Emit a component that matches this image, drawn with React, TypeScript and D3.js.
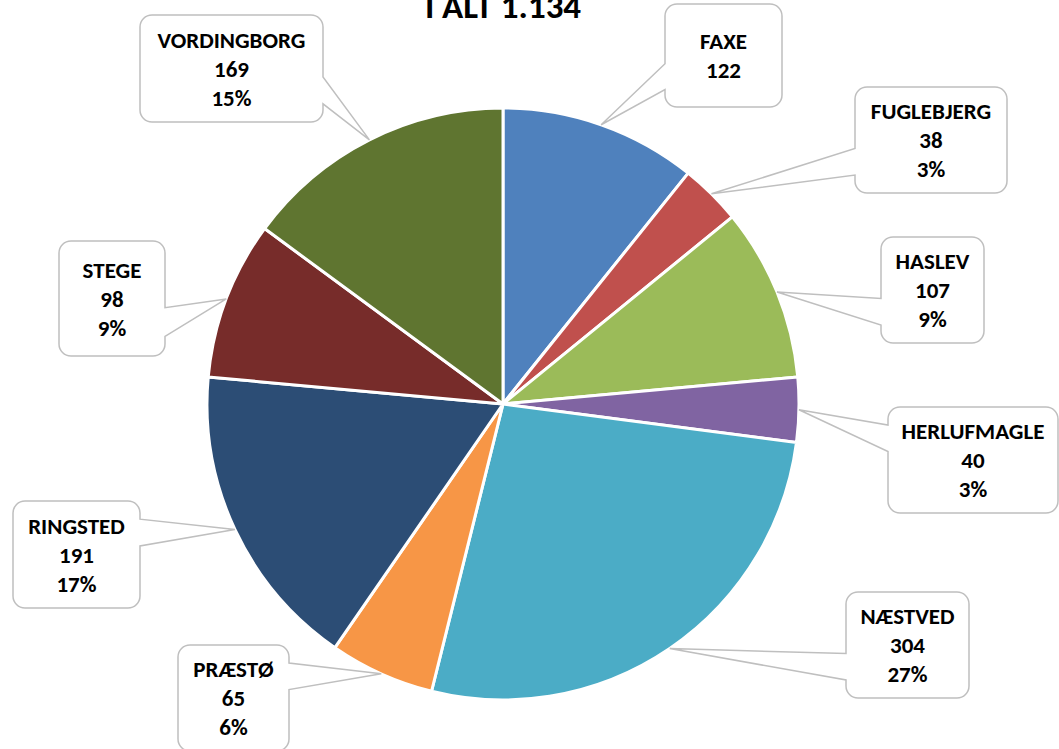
import { useEffect, useRef } from 'react';
import * as d3 from 'd3';

const CATEGORIES = ['FAXE', 'FUGLEBJERG', 'HASLEV', 'HERLUFMAGLE', 'NÆSTVED', 'PRÆSTØ', 'RINGSTED', 'STEGE', 'VORDINGBORG'];
const VALUES = [122, 38, 107, 40, 304, 65, 191, 98, 169];
// percentages as printed on the labels (FAXE has none)
const PERCENT_LABELS = ['', '3%', '9%', '3%', '27%', '6%', '17%', '9%', '15%'];
const TITLE = 'I ALT 1.134';

const COLORS = ['#4f81bd', '#c0504d', '#9bbb59', '#8064a2', '#4bacc6', '#f79646', '#2c4d75', '#772c2a', '#5f7530'];

// callout boxes placed by hand, like the original
const BOXES = [
  { x: 665, y: 4, w: 117, h: 103 },
  { x: 855, y: 87, w: 152, h: 106 },
  { x: 881, y: 237, w: 103, h: 106 },
  { x: 888, y: 407, w: 170, h: 106 },
  { x: 846, y: 592, w: 123, h: 106 },
  { x: 178, y: 645, w: 111, h: 106 },
  { x: 13, y: 501, w: 127, h: 107 },
  { x: 59, y: 241, w: 106, h: 115 },
  { x: 140, y: 15, w: 183, h: 107 }
];

const WIDTH = 1059;
const HEIGHT = 749;
const CX = 503;
const CY = 404;
const RADIUS = 296;
const FONT = 'Carlito, Calibri, Lato, sans-serif';

type Box = { x: number; y: number; w: number; h: number };

function calloutPath(b: Box, tip: [number, number]) {
  const rr = 12;
  const { x, y, w, h } = b;
  const [tx, ty] = tip;
  const upper = ty < y + h / 2;
  const y1 = y + h * (upper ? 0.17 : 0.58);
  const y2 = y + h * (upper ? 0.42 : 0.83);
  const p = d3.path();
  p.moveTo(x + rr, y);
  p.lineTo(x + w - rr, y);
  p.arcTo(x + w, y, x + w, y + rr, rr);
  if (tx > x + w) {
    p.lineTo(x + w, y1);
    p.lineTo(tx, ty);
    p.lineTo(x + w, y2);
  }
  p.lineTo(x + w, y + h - rr);
  p.arcTo(x + w, y + h, x + w - rr, y + h, rr);
  p.lineTo(x + rr, y + h);
  p.arcTo(x, y + h, x, y + h - rr, rr);
  if (tx < x) {
    p.lineTo(x, y2);
    p.lineTo(tx, ty);
    p.lineTo(x, y1);
  }
  p.lineTo(x, y + rr);
  p.arcTo(x, y, x + rr, y, rr);
  p.closePath();
  return p.toString();
}

export default function App() {
  const svgRef = useRef<SVGSVGElement>(null);

  useEffect(() => {
    if (!svgRef.current) return;
    document.body.style.margin = '0';

    const svg = d3.select(svgRef.current);
    svg.selectAll('*').remove();

    const data = CATEGORIES.map((name, i) => ({
      name,
      value: VALUES[i],
      pct: PERCENT_LABELS[i],
      color: COLORS[i],
      box: BOXES[i]
    }));

    const pie = d3.pie<typeof data[0]>().value(d => d.value).sort(null);
    const arc = d3.arc<d3.PieArcDatum<typeof data[0]>>().innerRadius(0).outerRadius(RADIUS);
    const edge = d3.arc<d3.PieArcDatum<typeof data[0]>>().innerRadius(RADIUS).outerRadius(RADIUS);

    const g = svg.append('g').attr('transform', `translate(${CX},${CY})`);
    const arcs = pie(data);

    g.selectAll('path.slice')
      .data(arcs)
      .enter()
      .append('path')
      .attr('class', 'slice')
      .attr('d', arc)
      .attr('fill', d => d.data.color)
      .attr('stroke', '#fff')
      .attr('stroke-width', 3)
      .attr('stroke-linejoin', 'round');

    // callouts
    const labels = svg.append('g');
    arcs.forEach(d => {
      const c = edge.centroid(d);
      const tip: [number, number] = [c[0] + CX, c[1] + CY];
      const b = d.data.box;
      labels.append('path')
        .attr('d', calloutPath(b, tip))
        .attr('fill', '#fff')
        .attr('stroke', '#bfbfbf')
        .attr('stroke-width', 1.5);

      const lines = [d.data.name, String(d.data.value), d.data.pct].filter(s => s !== '');
      const mid = b.y + b.h / 2 + 8;
      lines.forEach((t, i) => {
        labels.append('text')
          .attr('x', b.x + b.w / 2)
          .attr('y', mid + (i - (lines.length - 1) / 2) * 29)
          .attr('text-anchor', 'middle')
          .attr('font-family', FONT)
          .attr('font-weight', 700)
          .attr('font-size', 23)
          .attr('fill', '#000')
          .text(t);
      });
    });

    svg.append('text')
      .attr('x', CX)
      .attr('y', 18)
      .attr('text-anchor', 'middle')
      .attr('font-family', FONT)
      .attr('font-weight', 700)
      .attr('font-size', 35)
      .attr('fill', '#000')
      .text(TITLE);
  }, []);

  return (
    <div style={{ position: 'absolute', left: 0, top: 0 }}>
      <svg ref={svgRef} width={WIDTH} height={HEIGHT} style={{ display: 'block', background: '#fff' }}></svg>
    </div>
  );
}
